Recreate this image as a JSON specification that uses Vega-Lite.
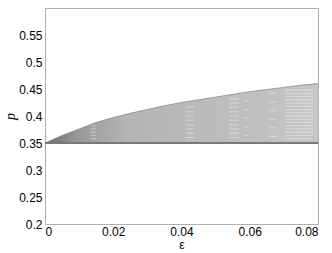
{
  "$schema": "https://vega.github.io/schema/vega-lite/v6.json",
  "width": 273,
  "height": 216,
  "autosize": {"type": "none"},
  "padding": {"left": 45, "top": 8, "right": 14, "bottom": 29},
  "background": "white",
  "config": {
    "view": {"stroke": "#b0b0b0", "strokeWidth": 1},
    "axis": {"labelFont": "Liberation Sans", "titleFont": "Liberation Sans", "labelFontSize": 12, "labelColor": "#000", "domainColor": "#b0b0b0", "grid": false, "ticks": false}
  },
  "datasets": {
    "env": [
      {"eps": 0.0, "p": 0.35},
      {"eps": 0.005, "p": 0.364},
      {"eps": 0.01, "p": 0.376},
      {"eps": 0.015, "p": 0.388},
      {"eps": 0.02, "p": 0.397},
      {"eps": 0.025, "p": 0.405},
      {"eps": 0.03, "p": 0.412},
      {"eps": 0.035, "p": 0.419},
      {"eps": 0.04, "p": 0.425},
      {"eps": 0.045, "p": 0.43},
      {"eps": 0.05, "p": 0.435},
      {"eps": 0.055, "p": 0.44},
      {"eps": 0.06, "p": 0.445},
      {"eps": 0.065, "p": 0.449},
      {"eps": 0.07, "p": 0.453},
      {"eps": 0.075, "p": 0.457},
      {"eps": 0.08, "p": 0.46}
    ],
    "stripes": [
      {"e1": 0.0135, "e2": 0.015, "p": 0.358},
      {"e1": 0.0135, "e2": 0.015, "p": 0.364},
      {"e1": 0.0135, "e2": 0.015, "p": 0.37},
      {"e1": 0.0135, "e2": 0.015, "p": 0.376},
      {"e1": 0.0135, "e2": 0.015, "p": 0.382},
      {"e1": 0.0413, "e2": 0.0436, "p": 0.36},
      {"e1": 0.0413, "e2": 0.0436, "p": 0.368},
      {"e1": 0.0413, "e2": 0.0436, "p": 0.376},
      {"e1": 0.0413, "e2": 0.0436, "p": 0.384},
      {"e1": 0.0413, "e2": 0.0436, "p": 0.392},
      {"e1": 0.0413, "e2": 0.0436, "p": 0.4},
      {"e1": 0.0413, "e2": 0.0436, "p": 0.408},
      {"e1": 0.0413, "e2": 0.0436, "p": 0.416},
      {"e1": 0.054, "e2": 0.0568, "p": 0.36},
      {"e1": 0.054, "e2": 0.0568, "p": 0.368},
      {"e1": 0.054, "e2": 0.0568, "p": 0.376},
      {"e1": 0.054, "e2": 0.0568, "p": 0.384},
      {"e1": 0.054, "e2": 0.0568, "p": 0.392},
      {"e1": 0.054, "e2": 0.0568, "p": 0.4},
      {"e1": 0.054, "e2": 0.0568, "p": 0.408},
      {"e1": 0.054, "e2": 0.0568, "p": 0.416},
      {"e1": 0.054, "e2": 0.0568, "p": 0.424},
      {"e1": 0.054, "e2": 0.0568, "p": 0.432},
      {"e1": 0.0583, "e2": 0.0596, "p": 0.364},
      {"e1": 0.0583, "e2": 0.0596, "p": 0.38},
      {"e1": 0.0583, "e2": 0.0596, "p": 0.396},
      {"e1": 0.0583, "e2": 0.0596, "p": 0.412},
      {"e1": 0.0583, "e2": 0.0596, "p": 0.428},
      {"e1": 0.0656, "e2": 0.0677, "p": 0.362},
      {"e1": 0.0656, "e2": 0.0677, "p": 0.378},
      {"e1": 0.0656, "e2": 0.0677, "p": 0.394},
      {"e1": 0.0656, "e2": 0.0677, "p": 0.41},
      {"e1": 0.0656, "e2": 0.0677, "p": 0.426},
      {"e1": 0.0656, "e2": 0.0677, "p": 0.442},
      {"e1": 0.0706, "e2": 0.0785, "p": 0.358},
      {"e1": 0.0706, "e2": 0.0785, "p": 0.364},
      {"e1": 0.0706, "e2": 0.0785, "p": 0.37},
      {"e1": 0.0706, "e2": 0.0785, "p": 0.376},
      {"e1": 0.0706, "e2": 0.0785, "p": 0.382},
      {"e1": 0.0706, "e2": 0.0785, "p": 0.388},
      {"e1": 0.0706, "e2": 0.0785, "p": 0.394},
      {"e1": 0.0706, "e2": 0.0785, "p": 0.4},
      {"e1": 0.0706, "e2": 0.0785, "p": 0.406},
      {"e1": 0.0706, "e2": 0.0785, "p": 0.412},
      {"e1": 0.0706, "e2": 0.0785, "p": 0.418},
      {"e1": 0.0706, "e2": 0.0785, "p": 0.424},
      {"e1": 0.0706, "e2": 0.0785, "p": 0.43},
      {"e1": 0.0706, "e2": 0.0785, "p": 0.436},
      {"e1": 0.0706, "e2": 0.0785, "p": 0.442},
      {"e1": 0.0706, "e2": 0.0785, "p": 0.448}
    ]
  },
  "encoding": {
    "x": {"field": "eps", "type": "quantitative", "scale": {"domain": [0, 0.08], "nice": false}, "axis": {"title": "ε", "values": [0, 0.02, 0.04, 0.06, 0.08], "format": "~g", "labelPadding": 2, "titleFontSize": 12, "titleFontWeight": "normal", "titlePadding": 2}},
    "y": {"field": "p", "type": "quantitative", "scale": {"domain": [0.2, 0.6], "nice": false, "zero": false}, "axis": {"title": "p", "values": [0.2, 0.25, 0.3, 0.35, 0.4, 0.45, 0.5, 0.55], "format": "~g", "labelPadding": 3, "titleFontSize": 14, "titleFontWeight": "normal", "titleFontStyle": "italic", "titleFont": "Liberation Serif", "titlePadding": 1}}
  },
  "layer": [
    {
      "data": {"name": "env"},
      "mark": {"type": "area", "color": {"gradient": "linear", "x1": 0, "y1": 0, "x2": 1, "y2": 0, "stops": [{"offset": 0, "color": "#6a6a6a"}, {"offset": 0.12, "color": "#999999"}, {"offset": 0.3, "color": "#b4b4b4"}, {"offset": 1, "color": "#c6c6c6"}]}},
      "encoding": {"y2": {"datum": 0.35}}
    },
    {
      "data": {"name": "stripes"},
      "mark": {"type": "rule", "color": "#ffffff", "opacity": 0.35, "strokeWidth": 1.2},
      "encoding": {"x": {"field": "e1", "type": "quantitative"}, "x2": {"field": "e2"}, "y": {"field": "p", "type": "quantitative"}}
    },
    {
      "data": {"name": "env"},
      "mark": {"type": "line", "color": "#8a8a8a", "strokeWidth": 0.8},
      "encoding": {}
    },
    {
      "data": {"name": "env"},
      "mark": {"type": "rule", "color": "#7a7a7a", "strokeWidth": 1.6},
      "encoding": {"y": {"datum": 0.35}, "x": {"datum": 0}, "x2": {"datum": 0.08}}
    }
  ]
}
